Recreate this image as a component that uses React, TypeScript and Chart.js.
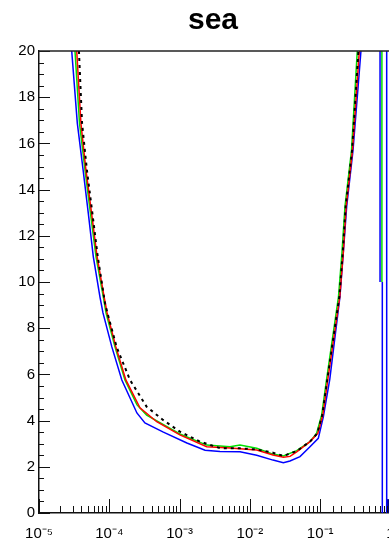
import React, { useEffect, useRef } from "react";
import { Chart, registerables } from "chart.js";

Chart.register(...registerables);

// ---- data ----
const chartTitle = "sea";
const xTickLabels: Record<string, string> = {
  "-5": "10⁻⁵",
  "-4": "10⁻⁴",
  "-3": "10⁻³",
  "-2": "10⁻²",
  "-1": "10⁻¹",
  "0": "1",
};

const blueX = [2.92e-5, 3.51e-5, 4.24e-5, 5.03e-5, 5.92e-5, 7.37e-5, 8.13e-5, 1.087e-4, 1.507e-4, 2.47e-4, 3.21e-4, 5.78e-4, 1.27e-3, 2.3e-3, 3.76e-3, 7.23e-3, 1.25e-2, 2.13e-2, 2.99e-2, 3.72e-2, 5.16e-2, 7.16e-2, 9.4e-2, 0.111, 0.137, 0.191, 0.213, 0.238, 0.293, 0.38];
const blueY = [20, 16.87, 14.85, 12.97, 11.1, 9.35, 8.66, 7.19, 5.76, 4.33, 3.9, 3.51, 3.03, 2.72, 2.66, 2.65, 2.5, 2.29, 2.18, 2.25, 2.44, 2.87, 3.23, 4.17, 5.8, 9.36, 11.26, 13.26, 15.7, 20];

const greenX = [3.25e-5, 3.77e-5, 4.51e-5, 5.4e-5, 6.47e-5, 8.22e-5, 8.98e-5, 1.205e-4, 1.67e-4, 2.48e-4, 3.4e-4, 1.01e-3, 2.43e-3, 5.21e-3, 7.23e-3, 1.25e-2, 2.13e-2, 3.0e-2, 4.63e-2, 7.16e-2, 8.9e-2, 0.105, 0.123, 0.182, 0.204, 0.225, 0.279, 0.337];
const greenY = [20, 16.87, 14.85, 12.97, 11.1, 9.35, 8.66, 7.19, 5.76, 4.68, 4.24, 3.42, 2.94, 2.87, 2.94, 2.8, 2.55, 2.47, 2.7, 3.09, 3.45, 4.24, 5.76, 9.36, 11.26, 13.26, 15.7, 20];

const redX = [3.44e-5, 3.95e-5, 4.65e-5, 5.6e-5, 6.7e-5, 8.45e-5, 9.3e-5, 1.24e-4, 1.72e-4, 2.73e-4, 4.73e-4, 1.01e-3, 2.43e-3, 5.21e-3, 1.25e-2, 2.13e-2, 3.0e-2, 3.72e-2, 4.63e-2, 7.16e-2, 9.25e-2, 0.109, 0.128, 0.19, 0.213, 0.234, 0.288, 0.36];
const redY = [20, 16.87, 14.85, 12.97, 11.1, 9.35, 8.66, 7.19, 5.76, 4.55, 3.95, 3.38, 2.87, 2.81, 2.73, 2.51, 2.41, 2.45, 2.65, 3.09, 3.45, 4.24, 5.76, 9.36, 11.26, 13.26, 15.7, 20];

const blackX = [3.7e-5, 4.1e-5, 4.8e-5, 5.75e-5, 6.85e-5, 8.69e-5, 9.4e-5, 1.27e-4, 1.97e-4, 3.4e-4, 5.8e-4, 1.01e-3, 1.95e-3, 3.76e-3, 7.23e-3, 1.25e-2, 2.13e-2, 3.0e-2, 4.63e-2, 7.16e-2, 9.1e-2, 0.107, 0.126, 0.187, 0.209, 0.23, 0.284, 0.35];
const blackY = [20, 16.87, 14.85, 12.97, 11.1, 9.08, 8.66, 7.19, 5.76, 4.6, 4.03, 3.52, 3.09, 2.81, 2.8, 2.75, 2.61, 2.47, 2.68, 3.09, 3.45, 4.24, 5.76, 9.36, 11.26, 13.26, 15.7, 20];

// vertical spikes at the right edge
const spikeBlueAX = [0.71, 0.71];
const spikeBlueAY = [20, 10];
const spikeGreenX = [0.755, 0.755];
const spikeGreenY = [20, 10];
const spikeBlueBX = [0.765, 0.765];
const spikeBlueBY = [10, 0];
const spikeBlueCX = [0.883, 0.883];
const spikeBlueCY = [0, 20];
const stubNavyX = [0.925, 0.925];
const stubNavyY = [0, 0.6];

const pts = (xs: number[], ys: number[]) => xs.map((x, i) => ({ x, y: ys[i] }));

const isPow10 = (v: number) => {
  const l = Math.log10(v);
  return Math.abs(l - Math.round(l)) < 1e-6;
};

const inwardTicks = {
  id: "inwardTicks",
  afterDraw(chart: any) {
    const { ctx, chartArea, scales } = chart;
    const xs = scales.x;
    const ys = scales.y;
    ctx.save();
    ctx.strokeStyle = "#111";
    ctx.lineWidth = 1;
    ctx.beginPath();
    ys.ticks.forEach((t: any) => {
      const p = Math.round(ys.getPixelForValue(t.value)) + 0.5;
      const major = Math.abs(t.value % 2) < 1e-6;
      const len = major ? 11 : 5;
      ctx.moveTo(chartArea.left, p);
      ctx.lineTo(chartArea.left + len, p);
    });
    xs.ticks.forEach((t: any) => {
      const p = Math.round(xs.getPixelForValue(t.value)) + 0.5;
      const len = isPow10(t.value) ? 14 : 7;
      ctx.moveTo(p, chartArea.bottom);
      ctx.lineTo(p, chartArea.bottom - len);
    });
    ctx.stroke();
    ctx.lineWidth = 1.5;
    ctx.strokeStyle = "#222";
    ctx.beginPath();
    ctx.moveTo(chartArea.left, chartArea.top);
    ctx.lineTo(chartArea.right, chartArea.top);
    ctx.stroke();
    ctx.restore();
  },
};

export default function App() {
  const ref = useRef<HTMLCanvasElement>(null);
  useEffect(() => {
    if (!ref.current) return;
    Chart.defaults.font.family = "Arial, 'Liberation Sans', sans-serif";
    const line = (data: any[], color: string, width = 1.5, dash: number[] = []) => ({
      data,
      borderColor: color,
      backgroundColor: color,
      borderWidth: width,
      borderDash: dash,
      pointRadius: 0,
      tension: 0,
      fill: false,
    });
    const chart = new Chart(ref.current, {
      type: "line",
      data: {
        datasets: [
          line(pts(blackX, blackY), "#000000", 2, [3, 4]),
          line(pts(redX, redY), "#ff0000"),
          line(pts(greenX, greenY), "#00e000"),
          line(pts(blueX, blueY), "#0000ff"),
          line(pts(spikeBlueAX, spikeBlueAY), "#0000ff"),
          line(pts(spikeGreenX, spikeGreenY), "#00e000"),
          line(pts(spikeBlueBX, spikeBlueBY), "#0000ff"),
          line(pts(spikeBlueCX, spikeBlueCY), "#0000ff"),
          line(pts(stubNavyX, stubNavyY), "#000080", 3),
        ] as any,
      },
      options: {
        animation: false,
        responsive: false,
        devicePixelRatio: 1,
        layout: { padding: 0 },
        plugins: {
          legend: { display: false },
          tooltip: { enabled: false },
          title: {
            display: true,
            text: chartTitle,
            color: "#000",
            font: { size: 30, weight: "bold" },
            padding: { top: 3, bottom: 12 },
          },
        },
        scales: {
          x: {
            type: "logarithmic",
            min: 1e-5,
            max: 2.16,
            grid: { display: false, drawTicks: false, drawOnChartArea: false },
            border: { display: true, color: "#111", width: 1.5 },
            ticks: {
              autoSkip: false,
              maxRotation: 0,
              minRotation: 0,
              padding: 12,
              color: "#000",
              font: { size: 15 },
              callback: (v: any) => {
                const n = Number(v);
                if (!isPow10(n)) return "";
                return xTickLabels[String(Math.round(Math.log10(n)))] ?? "";
              },
            },
            afterFit: (s: any) => {
              s.height = 34;
            },
          },
          y: {
            min: 0,
            max: 20,
            grid: { display: false, drawTicks: false, drawOnChartArea: false },
            border: { display: true, color: "#111", width: 1.5 },
            ticks: {
              stepSize: 0.5,
              autoSkip: false,
              padding: 4,
              color: "#000",
              font: { size: 15 },
              callback: (v: any) => (Math.abs(Number(v) % 2) < 1e-6 ? String(v) : ""),
            },
            afterFit: (s: any) => {
              s.width = 39;
            },
          },
        },
      } as any,
      plugins: [inwardTicks],
    });
    return () => chart.destroy();
  }, []);
  return (
    <div
      style={{
        position: "absolute",
        left: 0,
        top: 0,
        width: 389,
        height: 547,
        overflow: "hidden",
        background: "#fff",
      }}
    >
      <canvas ref={ref} width={426} height={547} style={{ display: "block" }} />
    </div>
  );
}
